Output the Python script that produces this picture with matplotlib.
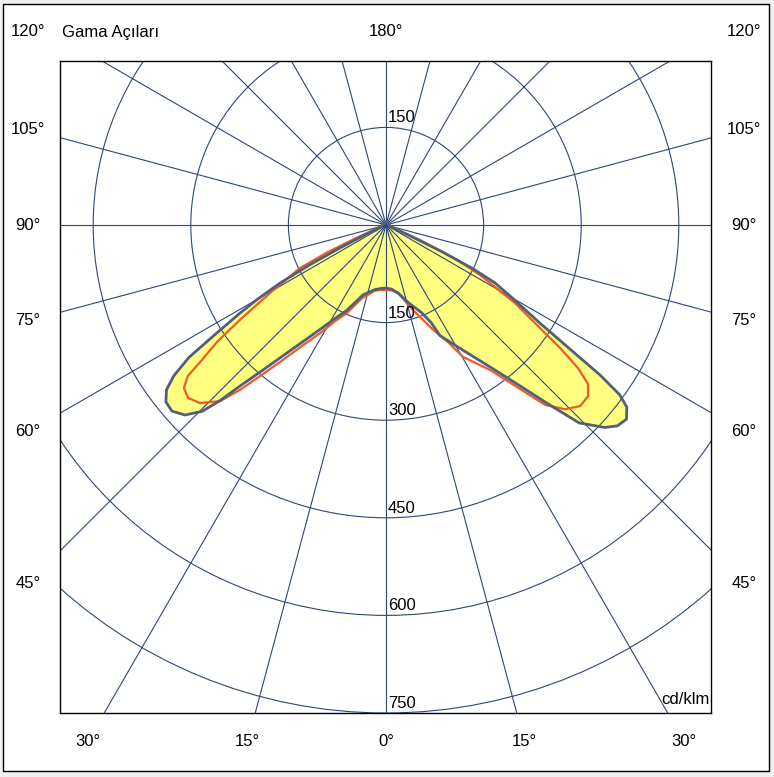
import numpy as np
import matplotlib.pyplot as plt
from matplotlib.patches import Circle, Rectangle

# C0-C180 plane (filled), gamma in degrees: negative = left half, positive = right half
c0_gamma = [-180, -135, -100, -90, -80, -72, -67, -65, -63.5, -62.5, -61.3, -60, -58.9, -57.1,
            -56.1, -54.6, -53.1, -51.2, -49, -46.6, -44.6, -43.4, -42.2, -40.6, -38.55, -35.9,
            -32.3, -28.3, -24.6, -18.2, -10, -5, 0, 5, 10, 16.3, 22, 24.8, 26, 28.7, 31.6,
            36.2, 39.8, 42.3, 44.3, 47.2, 49.05, 51.1, 52.9, 54, 54.97, 56, 57.5, 60.2, 62,
            63.3, 64.5, 65.5, 67, 72, 80, 90, 100, 135, 180]
c0_cd = [4, 4, 4, 5, 6, 8, 14, 35, 80, 130, 185, 228, 262, 322,
         365, 400, 422, 434, 436, 425, 402, 372, 334, 298, 261, 225,
         190, 162, 144, 113, 101, 98, 97, 99, 106, 125, 145, 165, 189, 205, 226,
         270, 322, 374, 425, 458, 471, 475, 464, 444, 402, 341, 280, 220, 190,
         150, 95, 45, 16, 8, 6, 5, 4, 4, 4]

# C90-C270 plane (line only)
c90_gamma = [-180, -135, -100, -90, -80, -70, -68, -66.5, -65, -63.4, -59.6, -57, -55.3, -53.6,
             -52.7, -51.1, -48.9, -46.3, -43.3, -41.5, -39.8, -37.7, -35.1, -31.4, -28, -24,
             -18, -10, -5, 0, 5, 10, 17.6, 24, 28, 30.3, 35.65, 39.25, 41.5, 44.2, 47,
             49.75, 51.8, 53.3, 54.75, 56.2, 58.8, 62, 64, 66, 68, 72, 80, 90, 100, 135, 180]
c90_cd = [4, 4, 5, 6, 8, 14, 20, 50, 100, 148, 207, 268, 316, 355,
          383, 399, 404, 396, 372, 338, 302, 266, 230, 195, 168, 148,
          118, 103, 100, 100, 101, 106, 137, 175, 205, 235, 274, 325, 369, 395, 408,
          407, 395, 368, 328, 285, 232, 164, 120, 60, 20, 10, 7, 6, 5, 4, 4]

ring_values = [150, 300, 450, 600, 750]
ray_angles = list(range(0, 360, 15))
side_labels = [45, 60, 75, 90, 105, 120]
bottom_labels = [0, 15, 30]

GRID = '#2f4677'
FONT = 'Liberation Sans'
FS = 12

W, H = 774, 777
PX = 488 / 750          # pixels per cd/klm
CX, CY = 386, 225       # pole position in pixels


def to_xy(gamma, cd):
    g = np.radians(np.asarray(gamma, dtype=float))
    r = np.asarray(cd, dtype=float)
    return r * np.sin(g), -r * np.cos(g)


fig = plt.figure(figsize=(W / 100, H / 100), dpi=100)
fig.patch.set_facecolor('#f0f0f0')
fig.add_artist(Rectangle((3 / W, (H - 771) / H), 766 / W, 767 / H, transform=fig.transFigure,
                         facecolor='white', edgecolor='black', lw=1.0, zorder=0))

ax = fig.add_axes([60 / W, (H - 713) / H, 651 / W, 652 / H])
ax.set_xlim((60 - CX) / PX, (711 - CX) / PX)
ax.set_ylim(-(713 - CY) / PX, (CY - 61) / PX)
ax.set_facecolor('white')
ax.set_xticks([])
ax.set_yticks([])
for sp in ax.spines.values():
    sp.set_color('black')
    sp.set_linewidth(1.0)

# filled C0-C180 curve
x0, y0 = to_xy(c0_gamma, c0_cd)
ax.fill(x0, y0, color='#ffff80', lw=0, zorder=1)

# grid: circles and rays
for r in ring_values:
    ax.add_patch(Circle((0, 0), r, fill=False, ec=GRID, lw=0.8, zorder=2))
for a in ray_angles:
    xr, yr = to_xy([a], [2000])
    ax.plot([0, xr[0]], [0, yr[0]], color=GRID, lw=0.8, zorder=2)

x90, y90 = to_xy(c90_gamma, c90_cd)
ax.plot(x90, y90, color='#f05a28', lw=1.6, zorder=3, solid_joinstyle='round')
ax.plot(x0, y0, color='#51607a', lw=2.0, zorder=4, solid_joinstyle='round')

# intensity labels along the vertical axis
for r in ring_values:
    ax.text(3, -r + 3, str(r), fontsize=FS, family=FONT, ha='left', va='bottom', zorder=5)
ax.text(3, ring_values[0] + 3, str(ring_values[0]), fontsize=FS, family=FONT,
        ha='left', va='bottom', zorder=5)
ax.text((710 - CX) / PX, -(707 - CY) / PX, 'cd/klm', fontsize=FS, family=FONT,
        ha='right', va='bottom', zorder=5)

# gamma angle labels around the frame
col_x = 358 / PX
top_y = (CY - 32) / PX
bot_y = -(741 - CY) / PX
for a in side_labels:
    y = min(-col_x / np.tan(np.radians(a)), top_y)
    for s in (-1, 1):
        ax.text(s * col_x, y, f'{a}°', fontsize=FS, family=FONT, ha='center', va='center',
                clip_on=False)
for a in bottom_labels:
    x = -bot_y * np.tan(np.radians(a))
    for s in ((-1, 1) if a else (1,)):
        ax.text(s * x, bot_y, f'{a}°', fontsize=FS, family=FONT, ha='center', va='center',
                clip_on=False)
ax.text(0, top_y, '180°', fontsize=FS, family=FONT, ha='center', va='center', clip_on=False)
ax.text((62 - CX) / PX, top_y, 'Gama Açıları', fontsize=FS, family=FONT, ha='left',
        va='center', clip_on=False)

fig.savefig('out.png', dpi=100, facecolor=fig.get_facecolor())
